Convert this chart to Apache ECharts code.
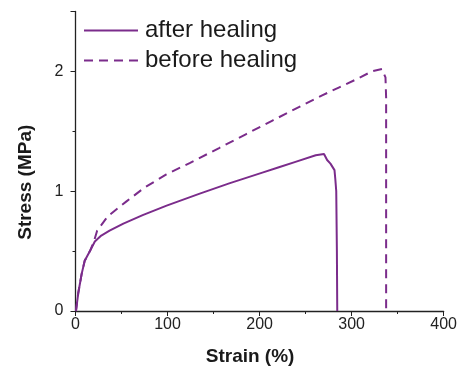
<!DOCTYPE html>
<html>
<head>
<meta charset="utf-8">
<script src="https://cdn.jsdelivr.net/npm/echarts@6/dist/echarts.min.js"></script>
<style>
html,body{margin:0;padding:0;background:#fff;}
#chart{width:460px;height:371px;}
</style>
</head>
<body>
<div id="chart"></div>
<script>
const seriesNames = ['after healing', 'before healing'];
const strainAfter = [0.5, 3, 6.7, 10, 15.7, 21, 28, 37, 52, 73, 99, 135, 167, 203, 221, 239, 261, 270, 273.4, 277, 281.4, 282.3, 283.3, 284, 284.4];
const stressAfter = [0, 0.15, 0.31, 0.42, 0.50, 0.58, 0.63, 0.67, 0.73, 0.80, 0.88, 0.98, 1.065, 1.155, 1.20, 1.245, 1.30, 1.31, 1.26, 1.23, 1.176, 1.10, 1.0, 0.5, 0];
const strainBefore = [0.5, 3, 6.7, 10, 15.7, 20, 23.5, 35, 55.4, 75, 98.7, 124, 156, 185, 214, 232, 250, 268, 286, 304, 322, 333, 336.8, 337.5, 337.5, 337.5];
const stressBefore = [0, 0.15, 0.31, 0.42, 0.50, 0.58, 0.67, 0.79, 0.915, 1.03, 1.14, 1.235, 1.36, 1.475, 1.59, 1.66, 1.73, 1.80, 1.865, 1.93, 2.00, 2.02, 1.95, 1.78, 1.0, 0];
const xTicks = [0, 100, 200, 300, 400];
const yTicks = [0, 1, 2];

const color = '#7B2C8B';
const zip = (a, b) => a.map((v, i) => [v, b[i]]);

const chart = echarts.init(document.getElementById('chart'), null, {renderer: 'canvas'});
const font = 'Liberation Sans, Arial, sans-serif';
chart.setOption({
  animation: false,
  backgroundColor: '#fff',
  grid: {left: 75.5, right: 15, top: 11.5, bottom: 57, containLabel: false},
  legend: {
    orient: 'vertical',
    left: 83,
    top: 18.5,
    padding: 0,
    itemWidth: 54,
    itemHeight: 14,
    itemGap: 6,
    data: seriesNames,
    itemStyle: {opacity: 0},
    textStyle: {fontFamily: font, fontSize: 24, color: '#1a1a1a', lineHeight: 24, padding: [0,0,0,2]}
  },
  xAxis: {
    type: 'value', min: 0, max: 400, interval: 100,
    name: 'Strain (%)', nameLocation: 'middle', nameGap: 36,
    nameTextStyle: {fontFamily: font, fontSize: 19, fontWeight: 'bold', color: '#1a1a1a', padding: [0, 19, 0, 0]},
    axisLine: {show: true, lineStyle: {color: '#222', width: 1.3}},
    axisTick: {show: true, inside: false, length: 5, lineStyle: {color: '#222', width: 1}},
    minorTick: {show: true, splitNumber: 2, length: 3, lineStyle: {color: '#222', width: 1}},
    axisLabel: {fontFamily: font, fontSize: 16, color: '#222', margin: 6,
      formatter: v => xTicks.includes(v) ? String(v) : ''},
    splitLine: {show: false}
  },
  yAxis: {
    type: 'value', min: 0, max: 2.5, interval: 1,
    name: 'Stress (MPa)', nameLocation: 'middle', nameGap: 40,
    nameTextStyle: {fontFamily: font, fontSize: 19, fontWeight: 'bold', color: '#1a1a1a', padding: [0, 0, 0, -42]},
    axisLine: {show: true, lineStyle: {color: '#222', width: 1.3}},
    axisTick: {show: true, inside: false, length: 5, lineStyle: {color: '#222', width: 1}},
    minorTick: {show: true, splitNumber: 2, length: 3, lineStyle: {color: '#222', width: 1}},
    axisLabel: {fontFamily: font, fontSize: 16, color: '#222', margin: 12,
      formatter: v => yTicks.includes(v) ? String(v) : ''},
    splitLine: {show: false}
  },
  series: [
    {name: seriesNames[0], type: 'line', data: zip(strainAfter, stressAfter), symbol: 'none',
     lineStyle: {color: color, width: 2}, itemStyle: {color: color}},
    {name: seriesNames[1], type: 'line', data: zip(strainBefore, stressBefore), symbol: 'none',
     lineStyle: {color: color, width: 2, type: [9, 6]}, itemStyle: {color: color}}
  ]
});
</script>
</body>
</html>
